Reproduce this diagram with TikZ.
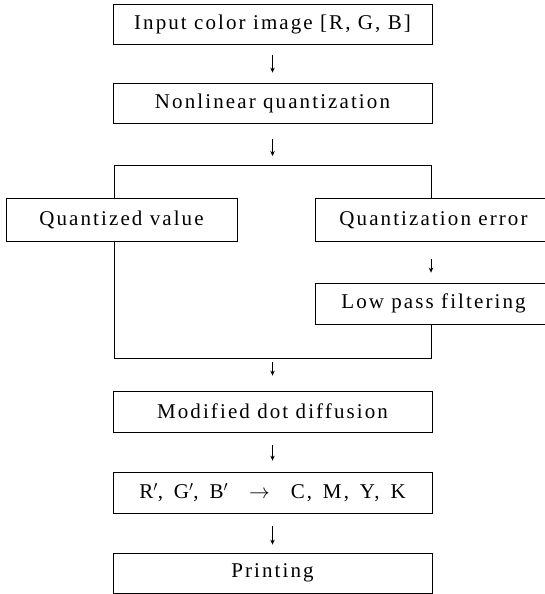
\documentclass[tikz,border=0pt]{standalone}
\usepackage{fontspec}
\setmainfont[LetterSpace=10]{Liberation Serif}
\usetikzlibrary{arrows.meta}
\tikzset{
  box/.style={draw, line width=0.8pt, rectangle, inner sep=0pt, minimum height=40pt, font=\fontsize{21}{24}\selectfont},
  flow/.style={line width=0.9pt, -{Stealth[length=5pt,width=4.5pt]}},
  link/.style={line width=0.8pt}
}
\begin{document}
\begin{tikzpicture}[x=1pt,y=-1pt]
\clip (0,0) rectangle (545,594);
\node[box, minimum width=319pt] (in) at (272.5,24) {Input color image [R, G, B]};
\node[box, minimum width=319pt] (nl) at (272.5,103) {Nonlinear quantization};
\node[box, minimum width=231pt, minimum height=43pt] (qv) at (121.5,220) {Quantized value};
\node[box, minimum width=237pt, minimum height=43pt] (qe) at (433.5,220) {Quantization error};
\node[box, minimum width=237pt, minimum height=41pt] (lpf) at (433.5,303.5) {Low pass filtering};
\node[box, minimum width=319pt, minimum height=41pt] (md) at (272.5,411.5) {Modified dot diffusion};
\node[box, minimum width=319pt, minimum height=41pt] (rgb) at (272.5,492.5) {R$'$,\, G$'$,\, B$'$\quad$\rightarrow$\quad C,\, M,\, Y,\, K};
\node[box, minimum width=319pt, minimum height=40pt] (pr) at (272.5,573) {Printing};
\coordinate (tl) at (114,165);
\coordinate (tr) at (431,165);
\coordinate (bl) at (114,358);
\coordinate (br) at (431,358);
\draw[flow, shorten <=11pt, shorten >=10pt] (in.south) -- (nl.north);
\draw[flow, shorten <=16pt, shorten >=9pt] (nl.south) -- (nl.south |- tl);
\draw[link] (tl |- qv.north) -- (tl) -- (tr) -- (tr |- qe.north);
\draw[flow, shorten <=17pt, shorten >=10pt] (tr |- qe.south) -- (tr |- lpf.north);
\draw[link] (bl |- qv.south) -- (bl) -- (br) -- (br |- lpf.south);
\draw[flow, shorten <=4pt, shorten >=15pt] (md.north |- bl) -- (md.north);
\draw[flow, shorten <=13pt, shorten >=11pt] (md.south) -- (rgb.north);
\draw[flow, shorten <=13pt, shorten >=8pt] (rgb.south) -- (pr.north);
\end{tikzpicture}
\end{document}
